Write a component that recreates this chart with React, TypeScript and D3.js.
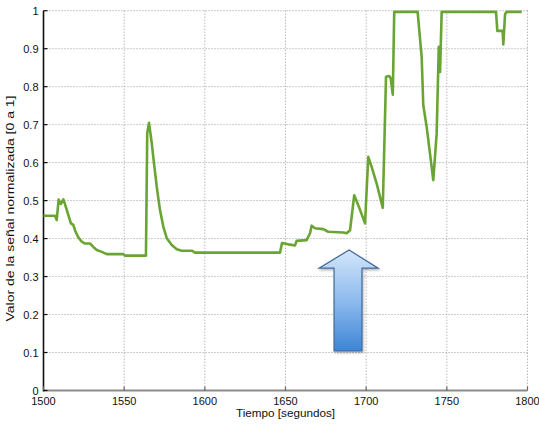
import React from "react";
import * as d3 from "d3";

const times = [1500, 1507.1, 1508.2, 1509.4, 1510.7, 1512.3, 1513.5, 1515.4, 1517.0, 1518.5, 1519.5, 1521.6, 1523.7, 1525.7, 1528.8, 1530.9, 1533.0, 1536.1, 1539.2, 1549.5, 1550.5, 1563.5, 1564.3, 1565.4, 1567.1, 1568.5, 1570.2, 1572.2, 1574.3, 1576.4, 1579.5, 1582.6, 1585.7, 1591.9, 1593.9, 1646.6, 1647.8, 1649.6, 1652.8, 1655.9, 1656.9, 1663.1, 1665.2, 1666.2, 1668.3, 1673.4, 1676.5, 1685.8, 1687.9, 1690.0, 1692.6, 1695.1, 1699.3, 1701.3, 1703.4, 1706.5, 1710.3, 1712.3, 1714.3, 1715.2, 1716.5, 1717.4, 1731.9, 1734.4, 1735.4, 1737.5, 1741.6, 1743.7, 1745.0, 1745.8, 1746.8, 1780.5, 1781.3, 1784.6, 1785.0, 1786.1, 1787.1, 1796.4];
const values = [0.46, 0.46, 0.449, 0.503, 0.491, 0.503, 0.488, 0.462, 0.44, 0.436, 0.422, 0.403, 0.392, 0.387, 0.387, 0.378, 0.37, 0.365, 0.359, 0.359, 0.355, 0.355, 0.678, 0.705, 0.651, 0.598, 0.536, 0.475, 0.431, 0.401, 0.383, 0.372, 0.368, 0.368, 0.363, 0.363, 0.388, 0.387, 0.384, 0.382, 0.394, 0.396, 0.414, 0.434, 0.427, 0.425, 0.418, 0.416, 0.414, 0.422, 0.514, 0.488, 0.44, 0.615, 0.589, 0.545, 0.481, 0.826, 0.828, 0.822, 0.779, 0.997, 0.997, 0.878, 0.751, 0.694, 0.554, 0.677, 0.905, 0.839, 0.997, 0.997, 0.947, 0.947, 0.911, 0.991, 0.997, 0.997];

const xTicks = [1500, 1550, 1600, 1650, 1700, 1750, 1800];
const yTicks = [0, 0.1, 0.2, 0.3, 0.4, 0.5, 0.6, 0.7, 0.8, 0.9, 1];
const yTickLabels = ["0", "0.1", "0.2", "0.3", "0.4", "0.5", "0.6", "0.7", "0.8", "0.9", "1"];

// arrow annotation in data coordinates
const arrowTip = { t: 1689.4, v: 0.37 };
const arrowHead = { t0: 1670.8, t1: 1707.4, v: 0.322 };
const arrowShaft = { t0: 1680.1, t1: 1697.4, v: 0.104 };

const xLabel = "Tiempo [segundos]";
const yLabel = "Valor de la señal normalizada [0 a 1]";

export default function App() {
  const W = 539, H = 424;
  const x = d3.scaleLinear().domain([1500, 1800]).range([43.5, 527.5]);
  const y = d3.scaleLinear().domain([0, 1]).range([390.5, 10.7]);
  const pts: [number, number][] = times.map((t, i) => [t, values[i]]);
  const line = d3.line<[number, number]>().x(d => x(d[0])).y(d => y(d[1]));
  const font = "'Liberation Sans', Arial, Helvetica, sans-serif";

  const arrowPts = [
    [x(arrowTip.t), y(arrowTip.v)],
    [x(arrowHead.t1), y(arrowHead.v)],
    [x(arrowShaft.t1), y(arrowHead.v)],
    [x(arrowShaft.t1), y(arrowShaft.v)],
    [x(arrowShaft.t0), y(arrowShaft.v)],
    [x(arrowShaft.t0), y(arrowHead.v)],
    [x(arrowHead.t0), y(arrowHead.v)],
  ];
  const arrowPath = "M" + arrowPts.map(p => p.join(",")).join("L") + "Z";

  return (
    <svg width={W} height={H} style={{ position: "absolute", left: 0, top: 0, background: "#fff" }}>
      <defs>
        <linearGradient id="ag" x1="0" y1="0" x2="0" y2="1">
          <stop offset="0" stopColor="#d3e6fa" />
          <stop offset="0.5" stopColor="#8dbbee" />
          <stop offset="1" stopColor="#3d85d6" />
        </linearGradient>
        <filter id="sh" x="-20%" y="-20%" width="140%" height="140%">
          <feDropShadow dx="1" dy="1.5" stdDeviation="1.2" floodColor="#000" floodOpacity="0.3" />
        </filter>
      </defs>
      <rect width={W} height={H} fill="#fff" />
      {/* grid */}
      {xTicks.slice(1).map(t => (
        <line key={"gx" + t} x1={x(t)} x2={x(t)} y1={y(1)} y2={y(0)} stroke="#9a9a9a" strokeWidth={1} strokeDasharray="1,2" />
      ))}
      {yTicks.slice(1).map(v => (
        <line key={"gy" + v} x1={x(1500)} x2={x(1800)} y1={y(v)} y2={y(v)} stroke="#9a9a9a" strokeWidth={1} strokeDasharray="1,2" />
      ))}
      {/* axes */}
      <line x1={x(1500)} x2={x(1800)} y1={y(0)} y2={y(0)} stroke="#8a8a8a" strokeWidth={2} />
      <line x1={x(1500)} x2={x(1500)} y1={y(1)} y2={y(0) + 1} stroke="#111" strokeWidth={1.6} />
      {xTicks.map(t => (
        <line key={"tx" + t} x1={x(t)} x2={x(t)} y1={y(0)} y2={y(0) - 4} stroke="#666" strokeWidth={1.2} />
      ))}
      {yTicks.map(v => (
        <line key={"ty" + v} x1={x(1500)} x2={x(1500) + 4} y1={y(v)} y2={y(v)} stroke="#111" strokeWidth={1.2} />
      ))}
      {xTicks.map(t => (
        <text key={"lx" + t} x={x(t)} y={405} textAnchor="middle" fontFamily={font} fontSize={11} fill="#111">{t}</text>
      ))}
      {yTicks.map((v, i) => (
        <text key={"ly" + v} x={38.5} y={y(v) + 4} textAnchor="end" fontFamily={font} fontSize={11} fill="#111">{yTickLabels[i]}</text>
      ))}
      <text x={285.5} y={417} textAnchor="middle" fontFamily={font} fontSize={11} fill="#111" textLength={99} lengthAdjust="spacingAndGlyphs">{xLabel}</text>
      <text transform={`translate(14,208.5) rotate(-90)`} textAnchor="middle" fontFamily={font} fontSize={11.5} fill="#111" textLength={226} lengthAdjust="spacingAndGlyphs">{yLabel}</text>
      {/* data line */}
      <path d={line(pts) || ""} fill="none" stroke="#6aa533" strokeWidth={2.6} strokeLinejoin="round" />
      {/* arrow */}
      <path d={arrowPath} fill="url(#ag)" stroke="#41699a" strokeWidth={1.2} filter="url(#sh)" />
    </svg>
  );
}
